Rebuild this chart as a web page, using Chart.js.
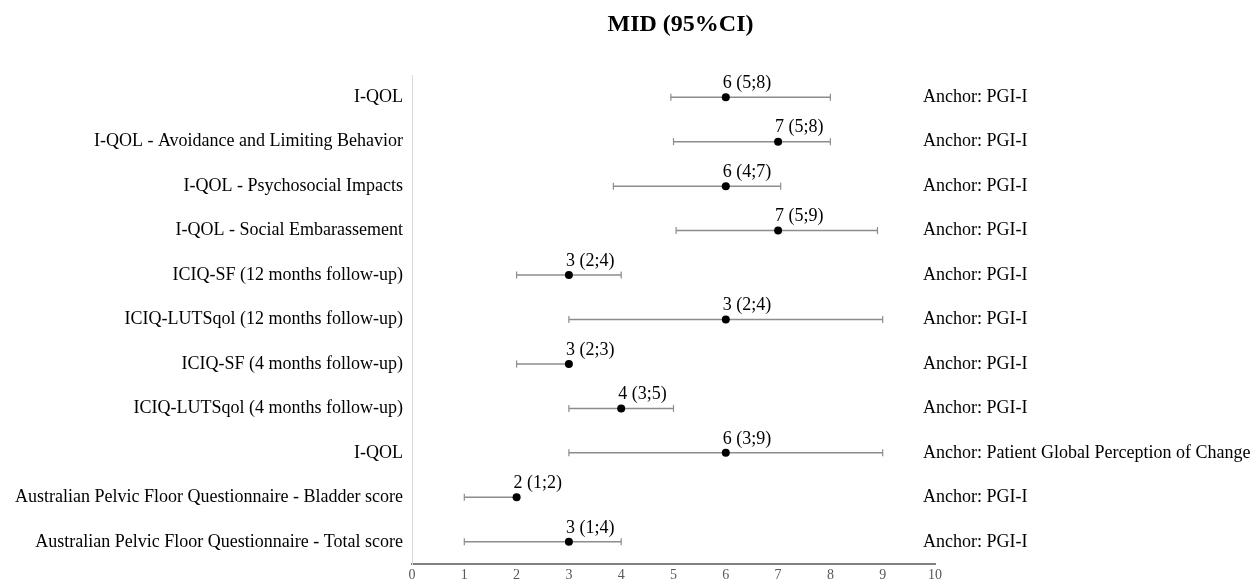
<!DOCTYPE html>
<html>
<head>
<meta charset="utf-8">
<title>MID (95%CI)</title>
<script src="https://cdn.jsdelivr.net/npm/chart.js@4.4.1/dist/chart.umd.min.js"></script>
<style>
  html, body { margin: 0; padding: 0; background: #fff; }
  #wrap { width: 1253px; height: 584px; }
</style>
</head>
<body>
<div id="wrap"><canvas id="chart" width="1253" height="584"></canvas></div>
<script>
// Rows, top to bottom
const rowLabels = [
  'I-QOL',
  'I-QOL - Avoidance and Limiting Behavior',
  'I-QOL - Psychosocial Impacts',
  'I-QOL - Social Embarassement',
  'ICIQ-SF (12 months follow-up)',
  'ICIQ-LUTSqol (12 months follow-up)',
  'ICIQ-SF (4 months follow-up)',
  'ICIQ-LUTSqol (4 months follow-up)',
  'I-QOL',
  'Australian Pelvic Floor Questionnaire - Bladder score',
  'Australian Pelvic Floor Questionnaire - Total score'
];
const anchorLabels = [
  'Anchor: PGI-I', 'Anchor: PGI-I', 'Anchor: PGI-I', 'Anchor: PGI-I',
  'Anchor: PGI-I', 'Anchor: PGI-I', 'Anchor: PGI-I', 'Anchor: PGI-I',
  'Anchor: Patient Global Perception of Change',
  'Anchor: PGI-I', 'Anchor: PGI-I'
];
// MID and 95% CI as drawn
const midValues  = [6, 7, 6, 7, 3, 6, 3, 4, 6, 2, 3];
const lowValues  = [4.95, 5, 3.85, 5.05, 2, 3, 2, 3, 3, 1, 1];
const highValues = [8, 8, 7.05, 8.9, 4, 9, 3, 5, 9, 2, 4];
// Text written above each point
const valueLabels = ['6 (5;8)', '7 (5;8)', '6 (4;7)', '7 (5;9)', '3 (2;4)', '3 (2;4)',
                     '3 (2;3)', '4 (3;5)', '6 (3;9)', '2 (1;2)', '3 (1;4)'];
const xTicks = [0, 1, 2, 3, 4, 5, 6, 7, 8, 9, 10];

Chart.defaults.font.family = "'Liberation Serif', 'Times New Roman', serif";
Chart.defaults.color = '#000';

const whiskerColor = '#8c8c8c';

// One line dataset per row for the CI, caps drawn as rotated 'line' points
const whiskers = rowLabels.map((_, i) => ({
  data: [{ x: lowValues[i], y: i }, { x: highValues[i], y: i }],
  showLine: true,
  borderColor: whiskerColor,
  borderWidth: 1.5,
  pointStyle: 'line',
  rotation: 90,
  pointRadius: 3.5,
  pointBorderColor: whiskerColor,
  pointBorderWidth: 1.2,
  order: 1
}));

const points = {
  data: midValues.map((v, i) => ({ x: v, y: i })),
  pointRadius: 4,
  pointBackgroundColor: '#000',
  pointBorderColor: '#000',
  pointBorderWidth: 0,
  order: 0
};

// Title, value labels above points and anchor text at the right
const textPlugin = {
  id: 'rowText',
  afterDatasetsDraw(chart) {
    const { ctx, chartArea, scales: { x, y } } = chart;
    ctx.save();
    ctx.fillStyle = '#000';
    ctx.textBaseline = 'middle';
    ctx.textAlign = 'center';
    ctx.font = "bold 24px 'Liberation Serif', serif";
    ctx.fillText('MID (95%CI)', (chartArea.left + chartArea.right) / 2 + 7, 25);

    ctx.font = "18px 'Liberation Serif', serif";
    ctx.textAlign = 'left';
    valueLabels.forEach((t, i) => {
      ctx.fillText(t, x.getPixelForValue(midValues[i]) - 3, y.getPixelForValue(i) - 14);
    });
    anchorLabels.forEach((t, i) => {
      ctx.fillText(t, x.right - 12, y.getPixelForValue(i));
    });
    ctx.restore();
  }
};

new Chart(document.getElementById('chart'), {
  type: 'scatter',
  data: { datasets: [points, ...whiskers] },
  options: {
    responsive: false,
    animation: false,
    layout: { padding: { left: 0, right: 318, top: 75, bottom: 0 } },
    plugins: {
      legend: { display: false },
      tooltip: { enabled: false },
      title: { display: false }
    },
    scales: {
      x: {
        type: 'linear',
        min: 0,
        max: 10,
        afterBuildTicks: s => { s.ticks = xTicks.map(v => ({ value: v })); },
        afterFit: s => { s.height = 20; },
        grid: { display: false, drawTicks: false },
        border: { display: true, color: '#808080', width: 2 },
        ticks: { color: '#595959', font: { size: 14 }, padding: 3 }
      },
      y: {
        type: 'linear',
        reverse: true,
        min: -0.5,
        max: 10.5,
        afterBuildTicks: s => { s.ticks = rowLabels.map((_, i) => ({ value: i })); },
        afterFit: s => { s.width = 412; },
        grid: { display: false, drawTicks: false },
        border: { display: true, color: '#d9d9d9', width: 1 },
        ticks: {
          color: '#000',
          font: { size: 18 },
          padding: 9,
          callback: v => rowLabels[v]
        }
      }
    }
  },
  plugins: [textPlugin]
});
</script>
</body>
</html>
